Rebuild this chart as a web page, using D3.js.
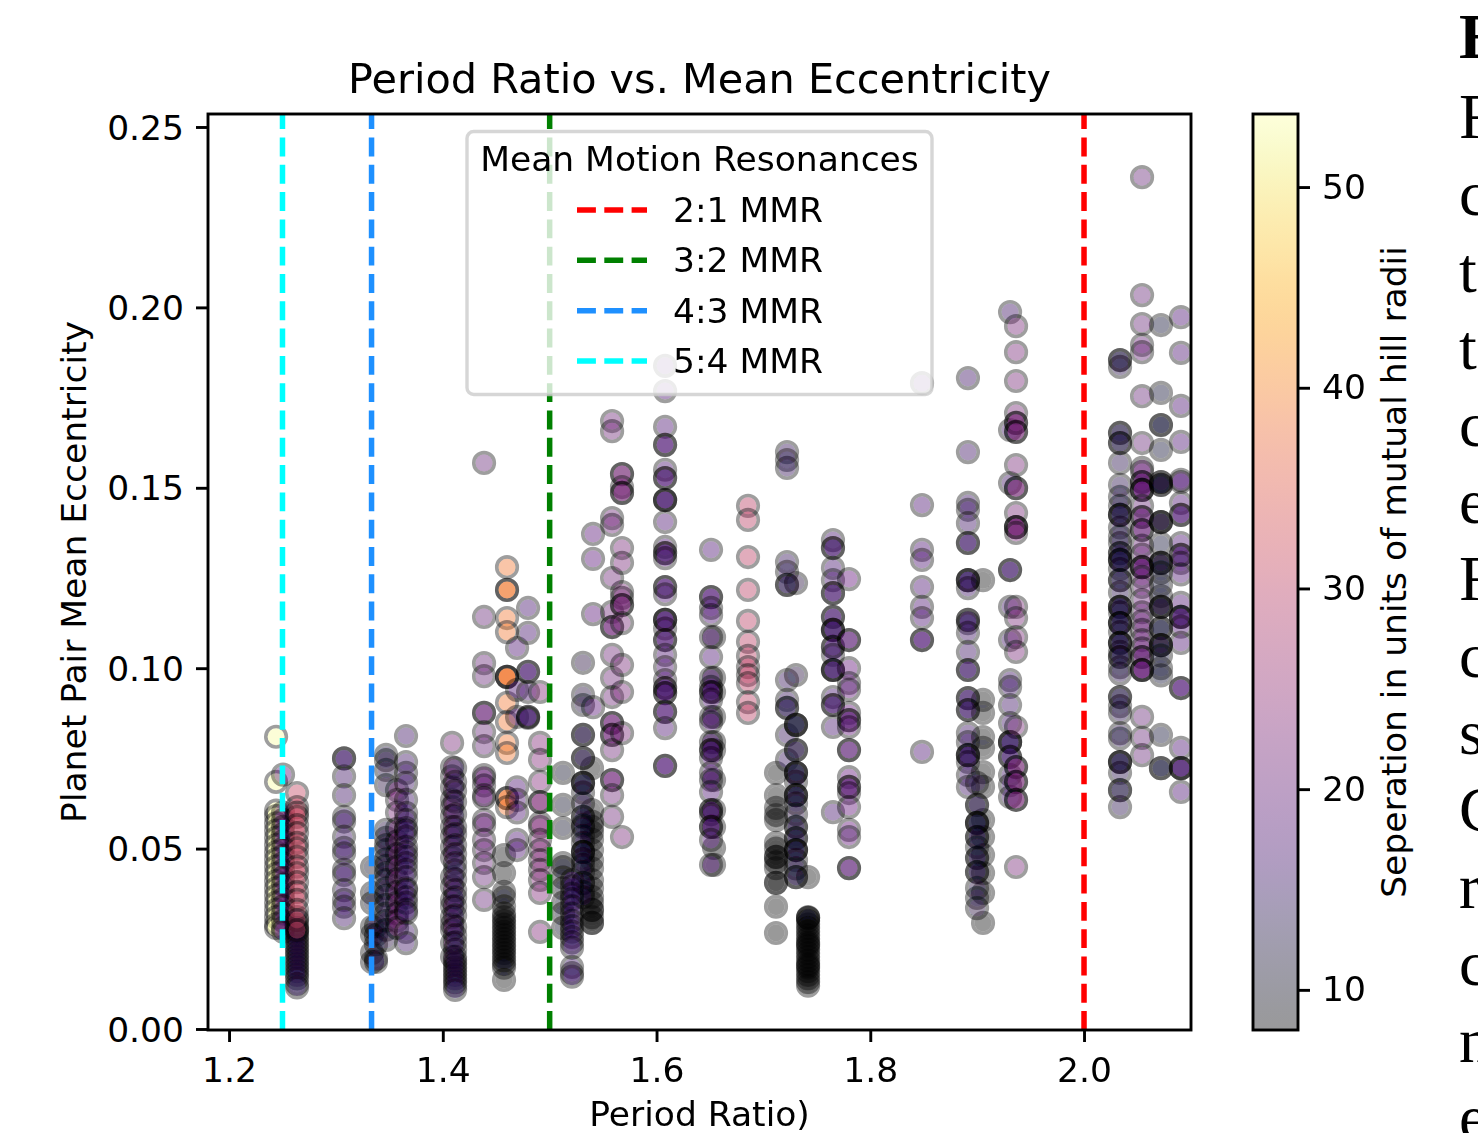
<!DOCTYPE html>
<html>
<head>
<meta charset="utf-8">
<script src="https://cdn.jsdelivr.net/npm/d3@7"></script>
<style>
    html, body { margin: 0; padding: 0; background: #fff; overflow: hidden; }
    svg { display: block; }
    text { font-family: "DejaVu Sans", sans-serif; fill: #000; }
    .page-text { font-family: "Liberation Serif", serif; font-size: 64px; }
</style>
</head>
<body>
<svg width="1478" height="1133"></svg>
<script>
// one entry per period-ratio column of points
var columnRatio = [1.244, 1.2505, 1.2636, 1.2636, 1.3076, 1.3338, 1.3375, 1.3469, 1.3572, 1.3656,
    1.4087, 1.4115, 1.4386, 1.4573, 1.4601, 1.4695, 1.4798, 1.491, 1.5125, 1.5396,
    1.5312, 1.5209, 1.5406, 1.5584, 1.5677, 1.608, 1.6538, 1.651, 1.6856, 1.7118,
    1.7221, 1.7305, 1.7418, 1.7418, 1.7651, 1.7801, 1.8484, 1.8914, 1.9055, 1.8999,
    1.9308, 1.9364, 2.0337, 2.0543, 2.072, 2.0907];

var columnSep = [53, 19, 14, 31, 15, 10, 13, 12, 22, 15,
    22, 14, 20, 9, 39, 17, 16, 23, 9.5, 8.5,
    12, 15, 18, 21, 22, 17, 9, 17, 30, 8.5,
    14, 12, 13, 8, 16, 19, 17, 15, 9, 12,
    15, 22, 13, 20, 11, 17];

var columnEcc = [
    [0.081, 0.0685, 0.0605, 0.059, 0.057, 0.055, 0.053, 0.051, 0.049, 0.047, 0.045, 0.043, 0.041, 0.039, 0.037, 0.035, 0.033, 0.031, 0.029, 0.028],
    [0.0705, 0.06, 0.058, 0.056, 0.054, 0.052, 0.05, 0.048, 0.046, 0.044, 0.042, 0.04, 0.038, 0.036, 0.034, 0.032, 0.03, 0.028, 0.027],
    [0.031, 0.029, 0.028, 0.027, 0.026, 0.025, 0.024, 0.023, 0.022, 0.021, 0.02, 0.019, 0.018, 0.017, 0.016, 0.015, 0.014, 0.0125, 0.0115],
    [0.0654, 0.0615, 0.06, 0.0588, 0.0565, 0.0543, 0.0516, 0.05, 0.0477, 0.045, 0.0432, 0.0407, 0.038, 0.0358, 0.033, 0.0302, 0.0274],
    [0.075, 0.075, 0.07, 0.0648, 0.0588, 0.0575, 0.0533, 0.0502, 0.0487, 0.0441, 0.0427, 0.0385, 0.0358, 0.0339, 0.0307],
    [0.0449, 0.0377, 0.0349, 0.0283, 0.0261, 0.0211, 0.0186],
    [0.0285, 0.026, 0.0235, 0.0195, 0.0186],
    [0.076, 0.0745, 0.0718, 0.0676, 0.0552, 0.053, 0.051, 0.0496, 0.047, 0.0452, 0.0432, 0.0413, 0.039, 0.037, 0.0344, 0.032, 0.03, 0.0275, 0.0247],
    [0.0662, 0.0635, 0.06, 0.0555, 0.052, 0.0485, 0.045, 0.0415, 0.038, 0.035, 0.032, 0.03, 0.028],
    [0.0812, 0.074, 0.071, 0.0682, 0.0635, 0.0599, 0.0579, 0.0557, 0.055, 0.0533, 0.0505, 0.049, 0.0477, 0.046, 0.0441, 0.0421, 0.039, 0.0385, 0.0365, 0.035, 0.033, 0.0321, 0.0269, 0.0238],
    [0.0793, 0.0726, 0.07, 0.067, 0.0635, 0.0615, 0.059, 0.056, 0.0535, 0.0504, 0.0475, 0.0421, 0.0395, 0.0358, 0.034, 0.031, 0.029, 0.0275, 0.0238, 0.02],
    [0.0723, 0.0685, 0.066, 0.063, 0.0595, 0.056, 0.054, 0.051, 0.0485, 0.046, 0.044, 0.0415, 0.0385, 0.0365, 0.034, 0.0315, 0.0283, 0.026, 0.024, 0.022, 0.02, 0.019, 0.018, 0.017, 0.016, 0.015, 0.014, 0.013, 0.012, 0.0108],
    [0.1569, 0.1142, 0.1014, 0.0978, 0.0876, 0.0876, 0.0823, 0.0784, 0.0704, 0.0695, 0.0675, 0.0648, 0.064, 0.0579, 0.0565, 0.0524, 0.0496, 0.046, 0.0421, 0.0358],
    [0.0482, 0.0432, 0.038, 0.0365, 0.034, 0.032, 0.031, 0.03, 0.029, 0.028, 0.027, 0.026, 0.025, 0.024, 0.023, 0.022, 0.021, 0.02, 0.019, 0.018, 0.017, 0.0136],
    [0.128, 0.1217, 0.1217, 0.1139, 0.11, 0.0976, 0.0976, 0.0976, 0.0904, 0.0851, 0.0793, 0.0765, 0.064, 0.064, 0.0615],
    [0.1056, 0.0865, 0.067, 0.0635, 0.06, 0.0524, 0.0496, 0.094],
    [0.1167, 0.1098, 0.099, 0.099, 0.0865, 0.0865, 0.0862, 0.0934],
    [0.0934, 0.0793, 0.0746, 0.0685, 0.0629, 0.0629, 0.0571, 0.056, 0.0524, 0.0496, 0.0468, 0.0441, 0.0413, 0.0377, 0.0269],
    [0.071, 0.0621, 0.0557, 0.046, 0.0449, 0.042, 0.039, 0.035, 0.032, 0.028],
    [0.0723, 0.0607, 0.0575, 0.056, 0.0545, 0.0525, 0.0496, 0.0468, 0.0445, 0.0413, 0.039, 0.0366, 0.035, 0.033, 0.033, 0.031, 0.0294, 0.0294],
    [0.1015, 0.0926, 0.0898, 0.0815, 0.0815, 0.0751, 0.0751, 0.0682, 0.0682, 0.0682, 0.0655, 0.0625, 0.0588, 0.0588, 0.0565, 0.056, 0.0535, 0.0515, 0.0491, 0.0491, 0.0491, 0.047, 0.0455, 0.0435, 0.0405, 0.0405, 0.038, 0.0365],
    [0.0413, 0.0395, 0.0375, 0.036, 0.034, 0.032, 0.03, 0.0285, 0.027, 0.0255, 0.024, 0.0225, 0.0172, 0.0155, 0.0145],
    [0.1372, 0.1303, 0.115, 0.0892],
    [0.1685, 0.1657, 0.1416, 0.1397, 0.125, 0.1156, 0.1114, 0.1114, 0.1037, 0.0973, 0.092, 0.0848, 0.0848, 0.0815, 0.0815, 0.0773, 0.069, 0.069, 0.0648, 0.0588],
    [0.1538, 0.1538, 0.1502, 0.1486, 0.1486, 0.1333, 0.1292, 0.1211, 0.1195, 0.1175, 0.1175, 0.1125, 0.1009, 0.0934, 0.082, 0.0532],
    [0.1838, 0.1768, 0.1669, 0.1619, 0.1619, 0.155, 0.1527, 0.1527, 0.1466, 0.1466, 0.1466, 0.1405, 0.1336, 0.1319, 0.1319, 0.1305, 0.1225, 0.1225, 0.1205, 0.1134, 0.1134, 0.1134, 0.111, 0.1078, 0.1078, 0.1037, 0.1003, 0.0967, 0.0945, 0.0945, 0.0931, 0.0931, 0.0879, 0.0879, 0.0834, 0.0729, 0.0729],
    [0.1086, 0.0973, 0.0934, 0.0865, 0.0795, 0.0773, 0.069, 0.0607, 0.056, 0.0502, 0.0455],
    [0.1328, 0.1197, 0.1197, 0.1167, 0.1147, 0.1086, 0.1031, 0.0973, 0.0948, 0.0934, 0.0934, 0.0912, 0.0865, 0.085, 0.0795, 0.0773, 0.0773, 0.0751, 0.071, 0.069, 0.0657, 0.0607, 0.0607, 0.0595, 0.056, 0.056, 0.0524, 0.0455],
    [0.145, 0.1411, 0.1308, 0.1217, 0.1131, 0.1073, 0.1034, 0.1003, 0.0981, 0.0959, 0.0906, 0.0876],
    [0.071, 0.0648, 0.0613, 0.0593, 0.0579, 0.0516, 0.05, 0.0477, 0.0477, 0.0462, 0.0446, 0.0405, 0.0405, 0.0339, 0.0266],
    [0.1599, 0.1577, 0.1555, 0.1294, 0.1267, 0.1231, 0.1231, 0.0967, 0.0912, 0.089, 0.089, 0.0815, 0.0746],
    [0.1236, 0.0981, 0.0843, 0.0843, 0.0843, 0.0773, 0.0773, 0.071, 0.071, 0.071, 0.0685, 0.0648, 0.0648, 0.0648, 0.0625, 0.0595, 0.056, 0.056, 0.0529, 0.0529, 0.0496, 0.0496, 0.0496, 0.0468, 0.0445, 0.0421, 0.0421],
    [0.0308, 0.0308],
    [0.0421, 0.031, 0.03, 0.029, 0.028, 0.027, 0.026, 0.025, 0.024, 0.0235, 0.023, 0.022, 0.021, 0.02, 0.019, 0.018, 0.0175, 0.017, 0.016, 0.015, 0.014, 0.013, 0.012],
    [0.1355, 0.1333, 0.1333, 0.1278, 0.1244, 0.1208, 0.1208, 0.1142, 0.1142, 0.1106, 0.1106, 0.1106, 0.1059, 0.1059, 0.1037, 0.0995, 0.0995, 0.0995, 0.092, 0.0898, 0.0898, 0.0837, 0.0601],
    [0.1247, 0.1078, 0.1078, 0.1, 0.0959, 0.094, 0.0876, 0.0856, 0.0856, 0.0837, 0.0773, 0.0773, 0.0698, 0.0671, 0.0671, 0.0654, 0.0615, 0.0552, 0.0532, 0.0446, 0.0446],
    [0.179, 0.1452, 0.1328, 0.13, 0.1225, 0.117, 0.1139, 0.1078, 0.1078, 0.0768],
    [0.1804, 0.1599, 0.1458, 0.1439, 0.1402, 0.1347, 0.1347, 0.1244, 0.1244, 0.1244, 0.1222, 0.1134, 0.1134, 0.1125, 0.1098, 0.1045, 0.0995, 0.0995, 0.0917, 0.0917, 0.0884, 0.0884, 0.082, 0.0795, 0.0759, 0.0759, 0.0759, 0.074, 0.0704, 0.0671],
    [0.1244, 0.0912, 0.0876, 0.0809, 0.0779, 0.0712, 0.0671, 0.0579, 0.0532, 0.0482, 0.0432, 0.0377, 0.0294],
    [0.0682, 0.0621, 0.0621, 0.0571, 0.0571, 0.0571, 0.0532, 0.0532, 0.0504, 0.0474, 0.0474, 0.0435, 0.0435, 0.0391, 0.0363, 0.0335],
    [0.1987, 0.166, 0.1513, 0.1272, 0.1272, 0.117, 0.1078, 0.0967, 0.0948, 0.0898, 0.0848, 0.0795, 0.0795, 0.0795, 0.0754, 0.0754, 0.0704, 0.0676, 0.0643],
    [0.1948, 0.1876, 0.1796, 0.1707, 0.168, 0.168, 0.1655, 0.1655, 0.1563, 0.1499, 0.1499, 0.143, 0.1391, 0.1391, 0.1391, 0.1375, 0.117, 0.1139, 0.1086, 0.1045, 0.0837, 0.0726, 0.0726, 0.0685, 0.0685, 0.0635, 0.0635, 0.0449],
    [0.1854, 0.1854, 0.1835, 0.1652, 0.1652, 0.1624, 0.1624, 0.1569, 0.1508, 0.1475, 0.145, 0.1425, 0.1425, 0.1425, 0.139, 0.1365, 0.1347, 0.1319, 0.1319, 0.13, 0.13, 0.13, 0.1275, 0.1244, 0.1244, 0.121, 0.117, 0.117, 0.117, 0.1155, 0.1125, 0.1125, 0.1125, 0.11, 0.107, 0.107, 0.107, 0.1045, 0.1031, 0.1031, 0.1003, 0.0985, 0.092, 0.092, 0.0895, 0.0876, 0.082, 0.0805, 0.074, 0.074, 0.074, 0.071, 0.0662, 0.0662, 0.0615],
    [0.2361, 0.2034, 0.1954, 0.1896, 0.1876, 0.1754, 0.1624, 0.1555, 0.1544, 0.1516, 0.1516, 0.1494, 0.1494, 0.1494, 0.145, 0.1419, 0.1419, 0.1383, 0.1383, 0.134, 0.1315, 0.128, 0.128, 0.128, 0.1253, 0.1225, 0.1189, 0.1155, 0.113, 0.1106, 0.1078, 0.1055, 0.1031, 0.1031, 0.0995, 0.0995, 0.0995, 0.0865, 0.0807, 0.0759],
    [0.1951, 0.1763, 0.1674, 0.1674, 0.1605, 0.1516, 0.1516, 0.1508, 0.1508, 0.1405, 0.1405, 0.1405, 0.1345, 0.1292, 0.1292, 0.1292, 0.1265, 0.1231, 0.12, 0.117, 0.117, 0.117, 0.1111, 0.1111, 0.1064, 0.1064, 0.1064, 0.1035, 0.1, 0.098, 0.0815, 0.0723, 0.0723],
    [0.1973, 0.1874, 0.1727, 0.1627, 0.1522, 0.1516, 0.1458, 0.1425, 0.1425, 0.1347, 0.1314, 0.1314, 0.1292, 0.126, 0.1181, 0.1142, 0.1142, 0.1142, 0.1115, 0.107, 0.0945, 0.0945, 0.0779, 0.0723, 0.0723, 0.0723, 0.0657]
];

var resonanceRatio = [2, 1.5, 4 / 3, 1.25];
var resonanceLabel = ["2:1 MMR", "3:2 MMR", "4:3 MMR", "5:4 MMR"];
var resonanceColor = ["red", "green", "dodgerblue", "cyan"];

var xTicks = [1.2, 1.4, 1.6, 1.8, 2.0];
var yTicks = [0, 0.05, 0.1, 0.15, 0.2, 0.25];
var sepTicks = [10, 20, 30, 40, 50];

// cut-off body text of the page behind the figure
var sideLetters = ["F", "c", "t", "t", "c", "e", "F", "c", "s", "C", "r", "c", "n", "e"];

var svg = d3.select("svg"),
    margin = { top: 114, bottom: 103, left: 208, right: 287 },
    plotLeft = margin.left,
    plotRight = +svg.attr("width") - margin.right,
    plotTop = margin.top,
    plotBottom = +svg.attr("height") - margin.bottom;

var sepMin = 8, sepMax = 53.64;

var x = d3.scaleLinear().domain([1.1803, 2.1001]).range([plotLeft, plotRight]),
    y = d3.scaleLinear().domain([-0.00028, 0.2536]).range([plotBottom, plotTop]),
    sepScale = d3.scaleLinear().domain([sepMin, sepMax]).range([plotBottom, plotTop]);

function sepColor(s) {
    return d3.interpolateInferno((s - sepMin) / (sepMax - sepMin));
}

var defs = svg.append("defs");

defs.append("clipPath").attr("id", "plot-clip")
    .append("rect")
    .attr("x", plotLeft).attr("y", plotTop)
    .attr("width", plotRight - plotLeft).attr("height", plotBottom - plotTop);

defs.append("linearGradient").attr("id", "bar-gradient")
    .attr("x1", 0).attr("y1", 1).attr("x2", 0).attr("y2", 0)
    .selectAll("stop")
    .data(d3.range(0, 1.001, 0.02))
    .enter().append("stop")
    .attr("offset", function (d) { return d; })
    .attr("stop-color", function (d) { return d3.interpolateInferno(d); });

// the reference is a slightly soft photo of the figure
defs.append("filter").attr("id", "soft")
    .append("feGaussianBlur").attr("stdDeviation", 0.6);

var points = [];
columnEcc.forEach(function (list, i) {
    list.forEach(function (e) {
        points.push({ ratio: columnRatio[i], ecc: e, sep: columnSep[i] });
    });
});

var plot = svg.append("g").attr("clip-path", "url(#plot-clip)");

var dots = plot.append("g").attr("filter", "url(#soft)")
    .selectAll(".dot")
    .data(points)
    .enter().append("g")
    .attr("class", "dot")
    .attr("transform", function (d) { return "translate(" + x(d.ratio) + "," + y(d.ecc) + ")"; });

// face and edge kept apart so the ring stays an even gray
dots.append("circle")
    .attr("r", 8.5)
    .attr("fill", function (d) { return sepColor(d.sep); })
    .attr("fill-opacity", 0.4);

dots.append("circle")
    .attr("r", 10.3)
    .attr("fill", "none")
    .attr("stroke", "#000")
    .attr("stroke-opacity", 0.38)
    .attr("stroke-width", 3.6);

plot.selectAll(".mmr")
    .data(resonanceRatio)
    .enter().append("line")
    .attr("class", "mmr")
    .attr("x1", function (d) { return x(d); })
    .attr("x2", function (d) { return x(d); })
    .attr("y1", plotBottom)
    .attr("y2", plotTop)
    .attr("stroke", function (d, i) { return resonanceColor[i]; })
    .attr("stroke-width", 5.5)
    .attr("stroke-dasharray", "18.9 8.4");

var xAxis = svg.append("g")
    .attr("transform", "translate(0," + plotBottom + ")")
    .call(d3.axisBottom(x).tickValues(xTicks).tickFormat(d3.format(".1f")).tickSize(12).tickPadding(16));

var yAxis = svg.append("g")
    .attr("transform", "translate(" + plotLeft + ",0)")
    .call(d3.axisLeft(y).tickValues(yTicks).tickFormat(d3.format(".2f")).tickSize(12).tickPadding(12));

[xAxis, yAxis].forEach(function (a) {
    a.select(".domain").remove();
    a.selectAll("line").attr("stroke", "#000").attr("stroke-width", 2.9);
    a.selectAll("text").attr("font-size", 34.5).attr("font-family", "DejaVu Sans");
});
yAxis.selectAll("text").attr("dy", "0.35em");

svg.append("rect")
    .attr("x", plotLeft).attr("y", plotTop)
    .attr("width", plotRight - plotLeft).attr("height", plotBottom - plotTop)
    .attr("fill", "none").attr("stroke", "#000").attr("stroke-width", 2.9);

svg.append("text")
    .attr("x", (plotLeft + plotRight) / 2).attr("y", 93)
    .attr("text-anchor", "middle").attr("font-size", 41.4)
    .text("Period Ratio vs. Mean Eccentricity");

svg.append("text")
    .attr("x", (plotLeft + plotRight) / 2).attr("y", 1126)
    .attr("text-anchor", "middle").attr("font-size", 34.5)
    .text("Period Ratio)");

svg.append("text")
    .attr("transform", "translate(86,572) rotate(-90)")
    .attr("text-anchor", "middle").attr("font-size", 34.5)
    .text("Planet Pair Mean Eccentricity");

// legend sits over the points and lines
var legend = svg.append("g");

legend.append("rect")
    .attr("x", 467).attr("y", 131.5)
    .attr("width", 465).attr("height", 263)
    .attr("rx", 6.8)
    .attr("fill", "#fff").attr("fill-opacity", 0.8)
    .attr("stroke", "#ccc").attr("stroke-opacity", 0.8).attr("stroke-width", 3.4);

legend.append("text")
    .attr("x", 699.5).attr("y", 171)
    .attr("text-anchor", "middle").attr("font-size", 34.5)
    .text("Mean Motion Resonances");

var legendRow = d3.scaleLinear().domain([0, 3]).range([210, 361]);

resonanceLabel.forEach(function (label, i) {
    legend.append("line")
        .attr("x1", 577).attr("x2", 647)
        .attr("y1", legendRow(i)).attr("y2", legendRow(i))
        .attr("stroke", resonanceColor[i])
        .attr("stroke-width", 5.5)
        .attr("stroke-dasharray", "18.9 8.4");
    legend.append("text")
        .attr("x", 673).attr("y", legendRow(i) + 12)
        .attr("font-size", 34.5)
        .text(label);
});

// colorbar
var barLeft = 1253, barRight = 1298;

svg.append("rect")
    .attr("x", barLeft).attr("y", plotTop)
    .attr("width", barRight - barLeft).attr("height", plotBottom - plotTop)
    .attr("fill", "url(#bar-gradient)")
    .attr("fill-opacity", 0.4);

svg.append("rect")
    .attr("x", barLeft).attr("y", plotTop)
    .attr("width", barRight - barLeft).attr("height", plotBottom - plotTop)
    .attr("fill", "none").attr("stroke", "#000").attr("stroke-width", 2.9);

var barAxis = svg.append("g")
    .attr("transform", "translate(" + barRight + ",0)")
    .call(d3.axisRight(sepScale).tickValues(sepTicks).tickSize(12).tickPadding(12));

barAxis.select(".domain").remove();
barAxis.selectAll("line").attr("stroke", "#000").attr("stroke-width", 2.9);
barAxis.selectAll("text").attr("font-size", 34.5).attr("font-family", "DejaVu Sans");

svg.append("text")
    .attr("transform", "translate(1406,572) rotate(-90)")
    .attr("text-anchor", "middle").attr("font-size", 34.5)
    .text("Seperation in units of mutual hill radii");

// letters cut by the right edge
svg.append("text")
    .attr("class", "page-text")
    .attr("x", 1459).attr("y", 58)
    .attr("font-weight", "bold")
    .text("E");

var lineY = d3.scaleLinear().domain([0, 13]).range([138, 1139]);

svg.selectAll(".page-line")
    .data(sideLetters)
    .enter().append("text")
    .attr("class", "page-text page-line")
    .attr("x", 1459)
    .attr("y", function (d, i) { return lineY(i); })
    .text(function (d) { return d; });
</script>
</body>
</html>
